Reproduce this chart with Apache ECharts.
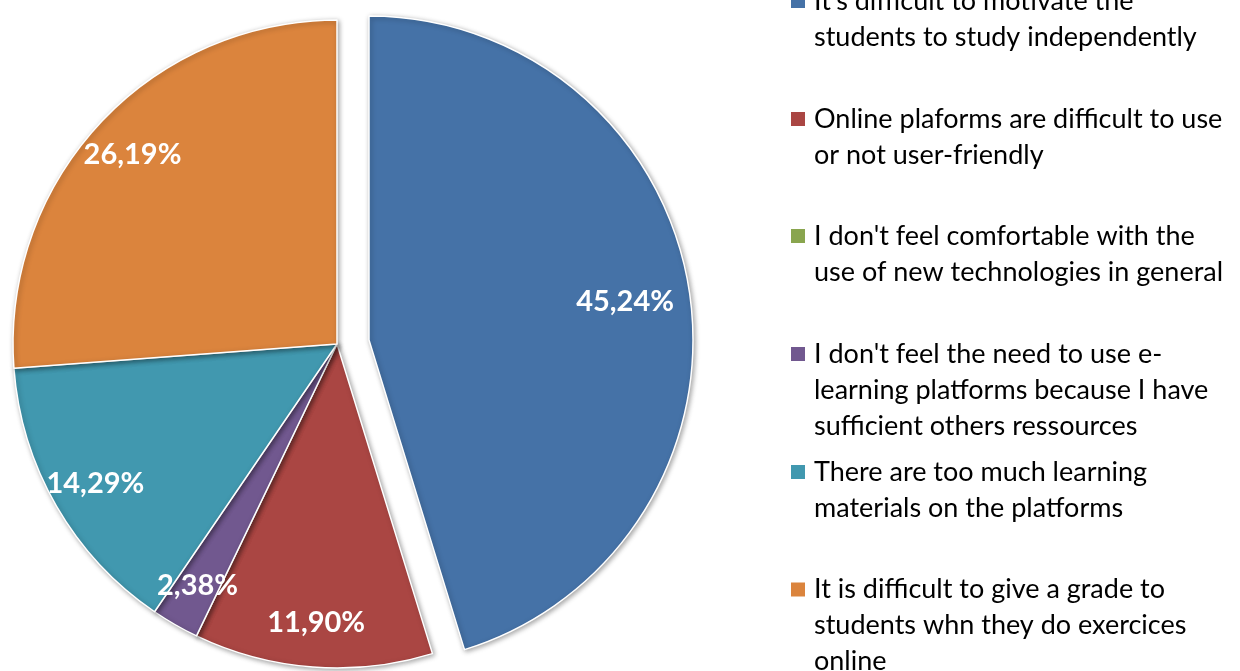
<!DOCTYPE html>
<html><head><meta charset="utf-8">
<script src="https://cdn.jsdelivr.net/npm/echarts@6/dist/echarts.min.js"></script>
<style>html,body{margin:0;padding:0;background:#fff}#c{width:1240px;height:671px}</style>
</head><body><div id="c"></div>
<script>
// ---- data ----
const categories = [
  "It's difficult to motivate the students to study independently",
  "Online plaforms are difficult to use or not user-friendly",
  "I don't feel comfortable with the use of new technologies in general",
  "I don't feel the need to use e-learning platforms because I have sufficient others ressources",
  "There are too much learning materials on the platforms",
  "It is difficult to give a grade to students whn they do exercices online"
];
const legendLabels = [
  "It's difficult to motivate the\nstudents to study independently",
  "Online plaforms are difficult to use\nor not user-friendly",
  "I don't feel comfortable with the\nuse of new technologies in general",
  "I don't feel the need to use e-\nlearning platforms because I have\nsufficient others ressources",
  "There are too much learning\nmaterials on the platforms",
  "It is difficult to give a grade to\nstudents whn they do exercices\nonline"
];
const percentages = [45.24, 11.90, 0, 2.38, 14.29, 26.19];
const colors = ['#4572A7', '#AA4643', '#89A54E', '#71588F', '#4198AF', '#DB843D'];

// ---- layout ----
const R = 324;
const mainCenter = [337, 344];
const explodedCenter = [369, 340];
const explodedIndex = 0;
const FONT = 'Lato';
const LH = 36;
const legendRowCenters = [1, 119, 236, 354, 472, 589.5];

function fmt(v) { return v.toFixed(2).replace('.', ',') + '%'; }
const hidden = { color: 'rgba(0,0,0,0)', borderWidth: 0, shadowBlur: 0, shadowColor: 'rgba(0,0,0,0)' };
const shown = (i) => ({
  color: colors[i], borderColor: '#fff', borderWidth: 1.5,
  shadowColor: 'rgba(0,0,0,0.35)', shadowBlur: 5, shadowOffsetX: 1.5, shadowOffsetY: 1.5
});

function sectorSeries(center, visible) {
  return {
    type: 'pie', center: center, radius: [0, R], startAngle: 90, clockwise: true,
    silent: true, avoidLabelOverlap: false, animation: false,
    label: { show: false }, labelLine: { show: false },
    emphasis: { disabled: true },
    data: categories.map((name, i) => ({
      name, value: percentages[i],
      itemStyle: visible(i) ? shown(i) : hidden
    }))
  };
}
function labelSeries(center, inner, visible) {
  return {
    type: 'pie', center: center, radius: [inner, R], startAngle: 90, clockwise: true,
    silent: true, avoidLabelOverlap: false, animation: false,
    labelLine: { show: false }, emphasis: { disabled: true },
    data: categories.map((name, i) => ({
      name, value: percentages[i],
      itemStyle: hidden,
      label: {
        show: visible(i) && percentages[i] > 0,
        position: 'inside',
        formatter: (p) => fmt(p.value),
        color: '#fff', fontFamily: FONT, fontWeight: 'bold', fontSize: 29
      }
    }))
  };
}

const legends = categories.map((name, i) => {
  const L = legendLabels[i].split('\n').length;
  return {
    orient: 'vertical', left: 791, top: legendRowCenters[i] - (2 * L - 1) * LH / 2,
    padding: 0, itemWidth: 14, itemHeight: 14, icon: 'rect', selectedMode: false,
    data: [{ name, itemStyle: { color: colors[i], opacity: 1, borderWidth: 0, shadowBlur: 0, shadowColor: 'rgba(0,0,0,0)' } }],
    formatter: () => '\n'.repeat(L - 1) + legendLabels[i],
    textStyle: { fontFamily: FONT, fontSize: 27, lineHeight: LH, color: '#000', padding: [0, 0, 0, 4] }
  };
});

const chart = echarts.init(document.getElementById('c'), null, { renderer: 'canvas' });
chart.setOption({
  backgroundColor: '#fff',
  animation: false,
  legend: legends,
  series: [
    sectorSeries(mainCenter, (i) => i !== explodedIndex),
    sectorSeries(explodedCenter, (i) => i === explodedIndex),
    labelSeries(mainCenter, 228, (i) => i !== explodedIndex),
    labelSeries(explodedCenter, 188, (i) => i === explodedIndex)
  ]
});
</script></body></html>
